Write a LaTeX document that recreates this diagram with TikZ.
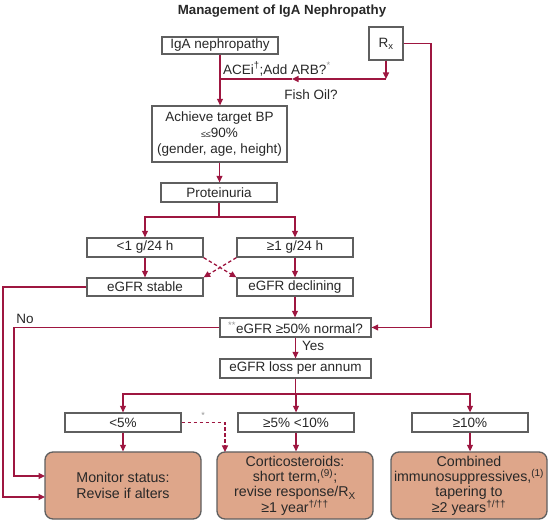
\documentclass[tikz,border=0pt]{standalone}
\usepackage{fontspec}
\setmainfont{Liberation Sans}
\usetikzlibrary{arrows.meta}
\definecolor{lred}{RGB}{158,22,64}
\definecolor{bfill}{RGB}{222,166,138}
\definecolor{bdraw}{RGB}{95,95,95}
\definecolor{txt}{RGB}{40,40,40}
\definecolor{ltgray}{RGB}{150,150,150}
\begin{document}
\begin{tikzpicture}[x=1pt,y=-1pt,
  font=\fontsize{13.5}{16}\selectfont, text=txt,
  box/.style={draw=bdraw, line width=1.3pt, fill=white, minimum width=116pt, minimum height=19pt, inner sep=0pt, align=center},
  rbox/.style={draw=bdraw, line width=1.3pt, fill=bfill, rounded corners=8pt, minimum width=156pt, minimum height=67pt, inner sep=0pt, align=center, font=\fontsize{14.2}{15.4}\selectfont},
  conn/.style={draw=lred, line width=1.3pt},
  arr/.style={conn, -{Triangle[length=6.5pt,width=6pt]}},
  dconn/.style={conn, dash pattern=on 3.5pt off 2.5pt},
  darr/.style={dconn, -{Triangle[length=6.5pt,width=6pt]}},
  lbl/.style={inner sep=0pt}
]
\path[fill=white] (0,0) rectangle (550,524);
\useasboundingbox (0,0) rectangle (550,524);

\node[lbl, font=\fontsize{13.3}{16}\selectfont\bfseries] (title) at (282,11) {Management of IgA Nephropathy};

\node[box, minimum height=17pt] (iga) at (220,45.5) {IgA nephropathy};
\node[box, minimum width=34pt, minimum height=33pt] (rx) at (386,43.5) {R\textsubscript{x}};
\node[box, minimum width=135pt, minimum height=56pt] (ach) at (219.5,134) {Achieve target BP\\{\small ≤≤}90\%\\(gender, age, height)};
\node[box] (prot) at (219,192.5) {Proteinuria};
\node[box] (lt1) at (145,247.5) {<1 g/24 h};
\node[box] (ge1) at (295,247.5) {≥1 g/24 h};
\node[box, minimum height=18pt] (stab) at (145,287) {eGFR stable};
\node[box, minimum height=18pt] (decl) at (295,287) {eGFR declining};
\node[box, minimum width=151pt] (g50) at (295.5,327.5) {\textcolor{ltgray}{\textsuperscript{**}}eGFR ≥50\% normal?};
\node[box, minimum width=151pt] (loss) at (295.5,368.5) {eGFR loss per annum};
\node[box] (lt5) at (123,422.5) {<5\%};
\node[box] (mid) at (296,422.5) {≥5\% <10\%};
\node[box] (g10) at (470,422.5) {≥10\%};
\node[rbox] (mon) at (123,485.5) {Monitor status:\\Revise if alters};
\node[rbox] (cort) at (295,485.5) {Corticosteroids:\\short term,\textsuperscript{(9)};\\revise response/R\textsubscript{X}\\≥1 year\textsuperscript{†/††}};
\node[rbox] (comb) at (469,485.5) {Combined\\immunosuppressives,\textsuperscript{(1)}\\tapering to\\≥2 years\textsuperscript{†/††}};

% labels
\node[lbl, anchor=west] (acei) at (223,69) {ACEi\textsuperscript{†};Add ARB?\textcolor{ltgray}{\textsuperscript{*}}};
\node[lbl] (fish) at (311,95) {Fish Oil?};
\node[lbl] (no) at (25,319) {No};
\node[lbl, anchor=west] (yes) at (302,346) {Yes};
\node[lbl, text=ltgray, font=\small] (ast) at (203,415) {*};

% coordinates
\coordinate (j1) at (220,79);
\coordinate (rxd) at (386,79);
\coordinate (mida) at (292,79);
\coordinate (s1) at (219,217);
\coordinate (s2) at (295.5,394);
\coordinate (c1) at (3,497);
\coordinate (c2) at (14,476);
\coordinate (c3) at (431,327.5);
\coordinate (monA) at (45,476);
\coordinate (monB) at (45,497);
\coordinate (dc) at (225,452);

% connectors
\draw[arr] (iga.south) -- (iga.south |- ach.north);
\draw[arr] (rx.south) -- (rxd);
\draw[arr] (rxd) -- (mida);
\draw[conn] (mida) -- (j1);
\draw[arr] (ach.south) -- (ach.south |- prot.north);
\draw[conn] (prot.south) -- (s1);
\draw[arr] (s1) -| (lt1.north);
\draw[arr] (s1) -| (ge1.north);
\draw[arr] (lt1) -- (stab);
\draw[arr] (ge1) -- (decl);
\draw[darr] (lt1.south east) -- (decl.north west);
\draw[darr] (ge1.south west) -- (stab.north east);
\draw[arr] (stab.west) -| (c1) -- (monB);
\draw[arr] (decl.south) -- (decl.south |- g50.north);
\draw[arr] (g50.west) -| (c2) -- (monA);
\draw[arr] (rx.east) -| (c3) -- (g50.east);
\draw[arr] (g50) -- (loss);
\draw[conn] (loss.south) -- (s2);
\draw[arr] (s2) -| (lt5.north);
\draw[arr] (s2) -| (mid.north);
\draw[arr] (s2) -| (g10.north);
\draw[arr] (lt5) -- (mon);
\draw[arr] (mid.south) -- (mid.south |- cort.north);
\draw[arr] (g10.south) -- (g10.south |- comb.north);
\draw[darr] (lt5.east) -| (dc);
\end{tikzpicture}
\end{document}
